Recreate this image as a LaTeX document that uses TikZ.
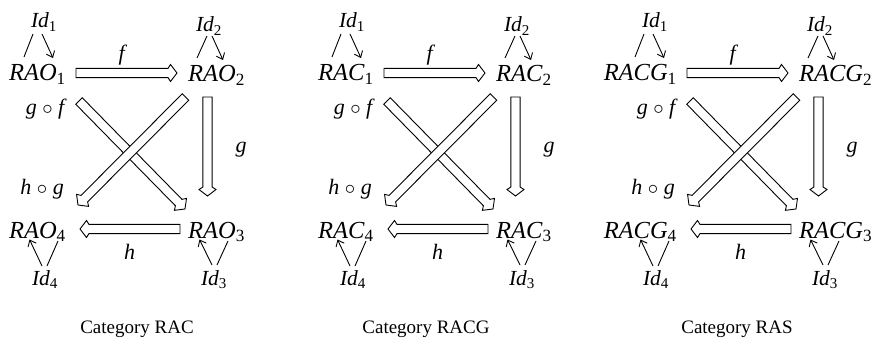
\documentclass[tikz,border=0pt]{standalone}
\usepackage{fontspec}
\setmainfont{Liberation Serif}
\usetikzlibrary{calc,arrows.meta}
\tikzset{
 obj/.style={inner sep=0pt, font=\fontsize{24.5}{24.5}\selectfont},
 idt/.style={inner sep=0pt, font=\fontsize{21.5}{21.5}\selectfont},
 lbl/.style={inner sep=0pt, font=\fontsize{22}{22}\selectfont},
 captext/.style={inner sep=0pt, font=\fontsize{19}{19}\selectfont},
 harrow/.style={draw=black, fill=white, line width=0.9pt, line join=miter},
 plainline/.style={line width=0.9pt},
 tipped/.style={line width=0.9pt, -{Straight Barb[length=5.5pt,width=9pt]}},
}
% hollow arrow from #1 to tip #2
\newcommand\hollowarr[2]{%
 \coordinate (hs) at ($(#2)!9pt!(#1)$);
 \coordinate (hw) at ($(#2)!6.5pt!(#1)$);
 \filldraw[harrow] ($(#1)!4.6pt!90:(#2)$) -- ($(hs)!4.6pt!-90:(#1)$) -- ($(hw)!8.5pt!-90:(#1)$) -- (#2)
   -- ($(hw)!8.5pt!90:(#1)$) -- ($(hs)!4.6pt!90:(#1)$) -- ($(#1)!4.6pt!-90:(#2)$) -- cycle;}
% one panel: #1 prefix, #2 shift, #3 object name
\newcommand\drawpanel[3]{%
\begin{scope}[xshift=#2pt]
 \node[idt, anchor=base] (#1i1) at (44,28) {\textit{Id}\textsubscript{1}};
 \node[idt, anchor=base] (#1i2) at (209,32) {\textit{Id}\textsubscript{2}};
 \node[idt, anchor=base] (#1i3) at (214,285) {\textit{Id}\textsubscript{3}};
 \node[idt, anchor=base] (#1i4) at (45,285) {\textit{Id}\textsubscript{4}};
 \node[obj, anchor=base east] (#1o1) at (66,81) {\textit{#3}\textsubscript{1}};
 \node[obj, anchor=base west] (#1o2) at (188,81.5) {\textit{#3}\textsubscript{2}};
 \node[obj, anchor=base west] (#1o3) at (188,238) {\textit{#3}\textsubscript{3}};
 \node[obj, anchor=base east] (#1o4) at (66,238) {\textit{#3}\textsubscript{4}};
 \node[lbl, anchor=base] (#1lf) at (123,61) {\textit{f}};
 \node[lbl, anchor=base] (#1lg) at (241,153) {\textit{g}};
 \node[lbl, anchor=base] (#1lh) at (129.5,259) {\textit{h}};
 \node[lbl, anchor=base east] (#1lgf) at (67,115) {\textit{g} $\circ$ \textit{f}};
 \node[lbl, anchor=base east] (#1lhg) at (64,195) {\textit{h} $\circ$ \textit{g}};
 % loop connectors
 \coordinate (#1a1) at (24,57);   \coordinate (#1b1) at (33,34);
 \coordinate (#1c1) at (42,34);   \coordinate (#1d1) at (53,58);
 \coordinate (#1a2) at (197,58);  \coordinate (#1b2) at (207,36);
 \coordinate (#1c2) at (212,36);  \coordinate (#1d2) at (223,60);
 \coordinate (#1a4) at (42,266);  \coordinate (#1b4) at (29.5,239.5);
 \coordinate (#1c4) at (47,266);  \coordinate (#1d4) at (58,241);
 \coordinate (#1a3) at (212,265); \coordinate (#1b3) at (199.5,239.5);
 \coordinate (#1c3) at (217,265); \coordinate (#1d3) at (228,241);
 \draw[plainline] (#1a1) -- (#1b1);
 \draw[tipped] (#1c1) -- (#1d1);
 \draw[plainline] (#1a2) -- (#1b2);
 \draw[tipped] (#1c2) -- (#1d2);
 \draw[tipped] (#1a4) -- (#1b4);
 \draw[plainline] (#1c4) -- (#1d4);
 \draw[tipped] (#1a3) -- (#1b3);
 \draw[plainline] (#1c3) -- (#1d3);
 % hollow arrows
 \coordinate (#1fs) at (76,73);     \coordinate (#1ft) at (177,73);
 \coordinate (#1gs) at (207.5,97);  \coordinate (#1gt) at (207.5,196);
 \coordinate (#1hs) at (180,229);   \coordinate (#1ht) at (80,229);
 \coordinate (#1xs) at (79,101);    \coordinate (#1xt) at (185,209);
 \coordinate (#1ys) at (185.5,97);  \coordinate (#1yt) at (78,205);
 \hollowarr{#1fs}{#1ft}
 \hollowarr{#1gs}{#1gt}
 \hollowarr{#1hs}{#1ht}
 \hollowarr{#1xs}{#1xt}
 \hollowarr{#1ys}{#1yt}
\end{scope}}
\begin{document}
\begin{tikzpicture}[x=1pt,y=-1pt]
 \useasboundingbox (0,0) rectangle (876,342);
 \drawpanel{a}{0}{RAO}
 \drawpanel{b}{308}{RAC}
 \drawpanel{c}{611}{RACG}
 \node[captext, anchor=base] (capa) at (137,333) {Category RAC};
 \node[captext, anchor=base] (capb) at (426,333) {Category RACG};
 \node[captext, anchor=base] (capc) at (737,333) {Category RAS};
\end{tikzpicture}
\end{document}
